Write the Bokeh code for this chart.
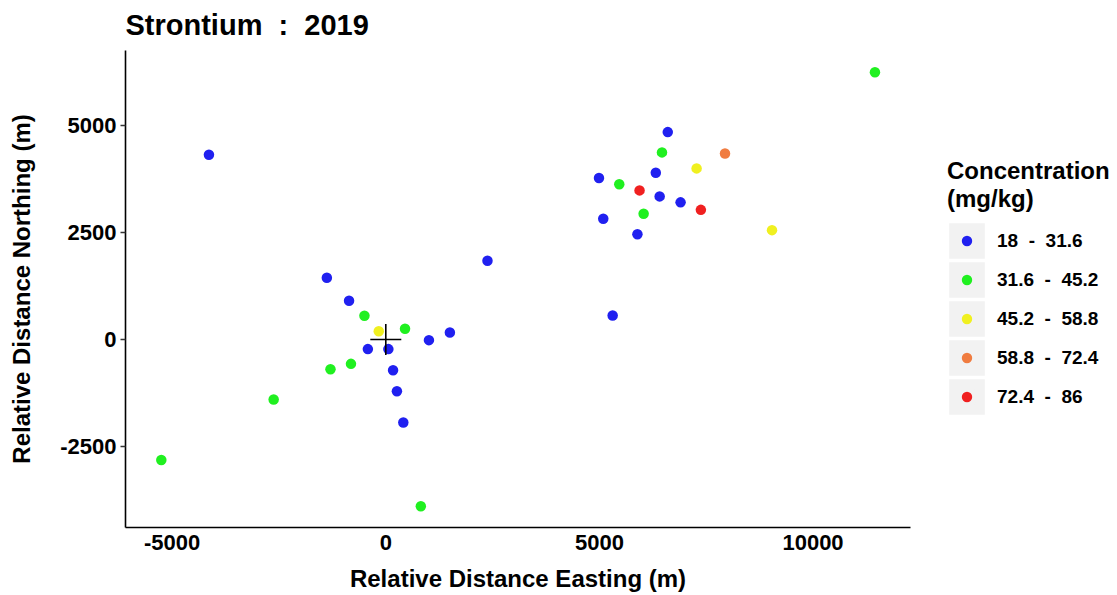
from bokeh.plotting import figure
from bokeh.layouts import row
from bokeh.models import Range1d, FixedTicker, Legend, LegendItem
from bokeh.embed import file_html
from bokeh.resources import INLINE

# ---------------- data ----------------
NB = "\u00a0"
title_text = "Strontium " + NB + ": " + NB + "2019"
x_label = "Relative Distance Easting (m)"
y_label = "Relative Distance Northing (m)"
legend_title = "Concentration\n(mg/kg)"

class_bounds = [("18", "31.6"), ("31.6", "45.2"), ("45.2", "58.8"), ("58.8", "72.4"), ("72.4", "86")]
class_labels = [f"{a} {NB}- {NB}{b}" for a, b in class_bounds]
class_colors = ["#2020F0", "#20F020", "#F0F020", "#F07C40", "#F02020"]

x_ticks = [-5000, 0, 5000, 10000]
y_ticks = [-2500, 0, 2500, 5000]

# data extent shown by the axes
east_limits = (-6093, 12282)
north_limits = (-4401, 6765)

# 18 - 31.6
east_c1 = [-4140, 2380, -1380, -860, 1010, 1500, -420, 60, 170, 260, 410,
           6600, 6320, 4990, 6410, 6900, 5090, 5890, 5310]
north_c1 = [4325, 1845, 1445, 905, -15, 165, -225, -225, -720, -1210, -1945,
            4855, 3905, 3780, 3350, 3210, 2825, 2465, 560]
# 31.6 - 45.2
east_c2 = [-500, 450, -815, -1295, -2625, -5255, 820, 11450, 6465, 5465, 6035]
north_c2 = [555, 250, -570, -695, -1405, -2820, -3905, 6255, 4380, 3635, 2945]
# 45.2 - 58.8
east_c3 = [-165, 7275, 9040]
north_c3 = [195, 4005, 2560]
# 58.8 - 72.4
east_c4 = [7940]
north_c4 = [4355]
# 72.4 - 86
east_c5 = [5940, 7375]
north_c5 = [3490, 3035]

# reference site (origin)
site_east = [0]
site_north = [0]

series_east = [east_c1, east_c2, east_c3, east_c4, east_c5]
series_north = [north_c1, north_c2, north_c3, north_c4, north_c5]

FONT = "Liberation Sans"
KEY_GREY = "#F2F2F2"

# ---------------- main figure ----------------
p = figure(width=912, height=595, output_backend="svg", toolbar_location=None,
           x_range=Range1d(*east_limits), y_range=Range1d(*north_limits),
           min_border_left=125, min_border_right=2,
           min_border_top=50, min_border_bottom=68,
           background_fill_color="white", border_fill_color="white")

p.title.text = title_text
p.title.text_font = FONT
p.title.text_font_size = "29px"
p.title.text_font_style = "bold"
p.title.text_color = "black"
p.title.align = "left"
p.title.vertical_align = "top"
p.title.standoff = 15

p.xgrid.visible = False
p.ygrid.visible = False
p.outline_line_color = None

for ax in (p.xaxis[0], p.yaxis[0]):
    ax.axis_line_color = "black"
    ax.axis_line_width = 1.6
    ax.major_label_text_font = FONT
    ax.major_label_text_font_size = "22px"
    ax.major_label_text_font_style = "bold"
    ax.major_label_text_color = "black"
    ax.axis_label_text_font = FONT
    ax.axis_label_text_font_size = "24px"
    ax.axis_label_text_font_style = "bold"
    ax.axis_label_text_color = "black"
    ax.minor_tick_line_color = None

p.xaxis.axis_label = x_label
p.yaxis.axis_label = y_label
p.xaxis.ticker = FixedTicker(ticks=x_ticks)
p.yaxis.ticker = FixedTicker(ticks=y_ticks)
p.xaxis.major_label_overrides = {t: str(t) for t in x_ticks}
p.yaxis.major_label_overrides = {t: str(t) for t in y_ticks}
p.xaxis.major_tick_line_color = None
p.xaxis.major_tick_out = 0
p.xaxis.major_tick_in = 0
p.xaxis.major_label_standoff = 7
p.xaxis.axis_label_standoff = 12
p.yaxis.major_tick_out = 5
p.yaxis.major_tick_in = 0
p.yaxis.major_tick_line_color = "#333333"
p.yaxis.major_tick_line_width = 1.5
p.yaxis.major_label_standoff = 4
p.yaxis.axis_label_standoff = 22

# ---------------- points ----------------
for ex, ny, col in zip(series_east, series_north, class_colors):
    p.scatter(ex, ny, size=10.5, fill_color=col, line_color=None)

p.scatter(site_east, site_north, marker="cross", size=31,
          line_color="black", line_width=1.6)

# ---------------- legend panel (proxies with NaN data; never drawn) ----------------
lp = figure(width=205, height=595, output_backend="svg", toolbar_location=None,
            x_axis_type=None, y_axis_type=None, min_border=0,
            x_range=Range1d(0, 1), y_range=Range1d(0, 1),
            background_fill_color="white", border_fill_color="white")
lp.outline_line_color = None

nan = float("nan")
key_box = lp.scatter(x=[nan], y=[nan], marker="square", size=10,
                     fill_color=KEY_GREY, line_color=KEY_GREY, line_width=20,
                     line_join="miter")
key_dots = [lp.scatter(x=[nan], y=[nan], size=10, fill_color=col,
                       line_color=KEY_GREY, line_width=5.2)
            for col in class_colors]

legend = Legend(
    items=[LegendItem(label=lab, renderers=[key_box, dot])
           for lab, dot in zip(class_labels, key_dots)],
    location=(35, 111), orientation="vertical",
    glyph_width=39, glyph_height=39, spacing=0, padding=0, margin=0,
    label_standoff=11,
    label_text_font=FONT, label_text_font_size="19px", label_text_font_style="bold",
    label_text_color="black",
    title=legend_title, title_text_font=FONT, title_text_font_size="24px",
    title_text_font_style="bold", title_text_color="black", title_standoff=8,
    background_fill_alpha=0, border_line_color=None, click_policy="none",
)
lp.add_layout(legend)

layout = row(p, lp, spacing=0)
open("out.html", "w").write(file_html(layout, INLINE))
